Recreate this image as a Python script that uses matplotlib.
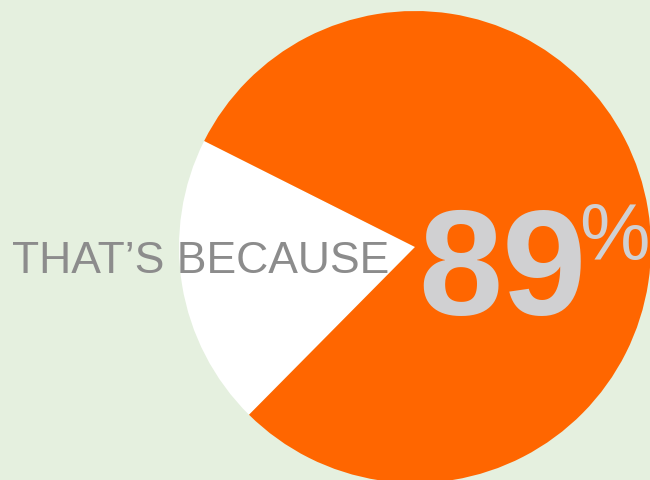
import matplotlib
matplotlib.use("Agg")
import matplotlib.pyplot as plt

# Data
labels = ["Other", "Share"]
values = [20, 80]
colors = ["#ffffff", "#ff6600"]
headline = "THAT\u2019S BECAUSE"
big_number = "89"
unit = "%"

W, H = 650, 481
fig = plt.figure(figsize=(W / 100, H / 100), dpi=100)
fig.patch.set_facecolor("#e5f0df")
ax = fig.add_axes([0, 0, 1, 1])
ax.set_facecolor("#e5f0df")

ax.pie(values, colors=colors, startangle=153.3, counterclock=True,
       center=(415, H - 248), radius=236, frame=True,
       wedgeprops=dict(linewidth=0))
ax.set_xlim(0, W)
ax.set_ylim(0, H)
ax.set_aspect("equal")
ax.axis("off")

ax.text(12, H - 273, headline, fontsize=32, color="#8c8c8c",
        family="Liberation Sans", ha="left", va="baseline")
ax.text(418, H - 315, big_number, fontsize=109, color="#d0d0d2",
        family="Liberation Sans", fontweight="bold", ha="left", va="baseline")
ax.text(579, H - 260, unit, fontsize=57, color="#d0d0d2",
        family="Liberation Sans", ha="left", va="baseline")

fig.savefig("out.png", dpi=100, facecolor=fig.get_facecolor())
